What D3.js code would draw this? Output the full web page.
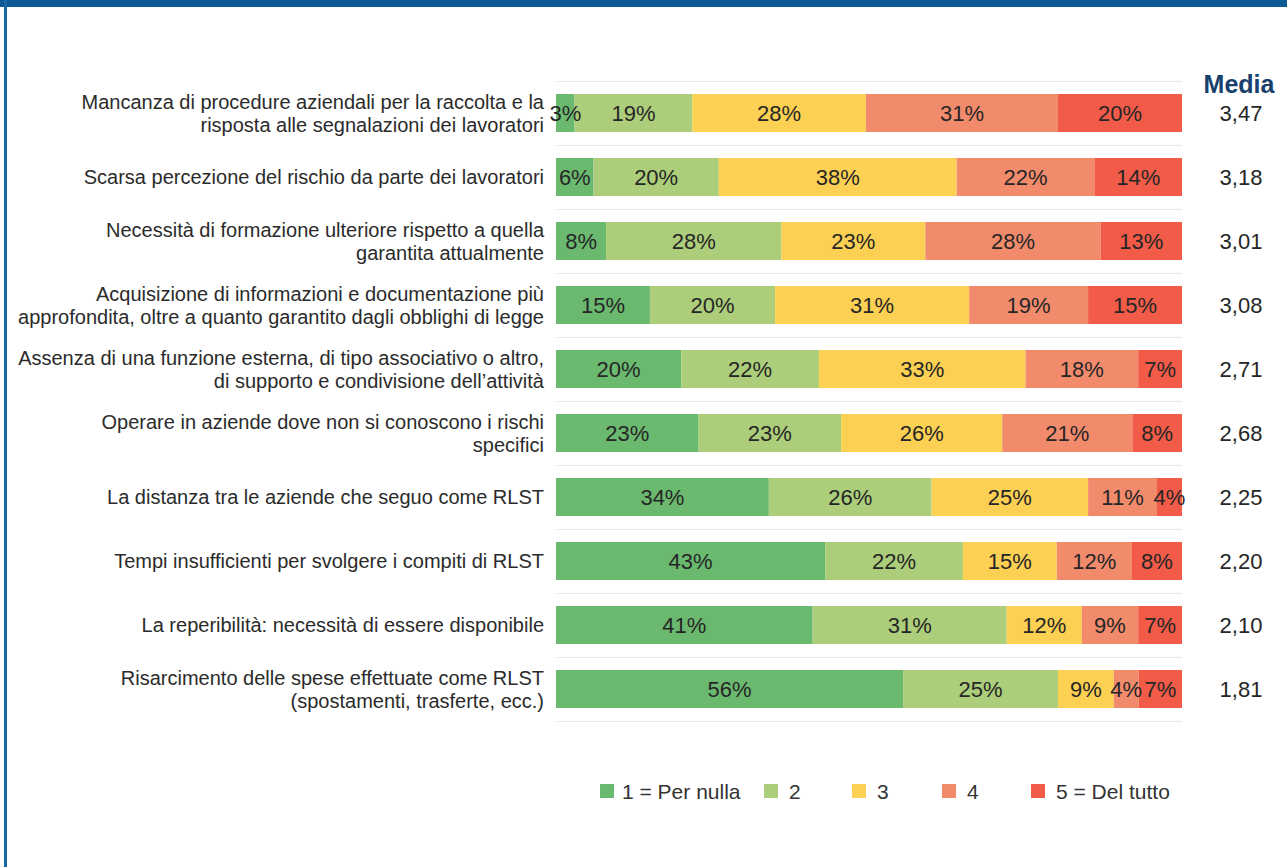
<!DOCTYPE html>
<html>
<head>
<meta charset="utf-8">
<script src="https://cdn.jsdelivr.net/npm/d3@7"></script>
<style>
  html, body { margin: 0; padding: 0; background: #fff; }
  svg { display: block; font-family: "Liberation Sans", Arial, sans-serif; }
</style>
</head>
<body>
<svg id="chart" width="1287" height="867"></svg>
<script>
// Row labels (each entry is one or two lines)
const categories = [
  ["Mancanza di procedure aziendali per la raccolta e la", "risposta alle segnalazioni dei lavoratori"],
  ["Scarsa percezione del rischio da parte dei lavoratori"],
  ["Necessità di formazione ulteriore rispetto a quella", "garantita attualmente"],
  ["Acquisizione di informazioni e documentazione più", "approfondita, oltre a quanto garantito dagli obblighi di legge"],
  ["Assenza di una funzione esterna, di tipo associativo o altro,", "di supporto e condivisione dell\u2019attività"],
  ["Operare in aziende dove non si conoscono i rischi", "specifici"],
  ["La distanza tra le aziende che seguo come RLST"],
  ["Tempi insufficienti per svolgere i compiti di RLST"],
  ["La reperibilità: necessità di essere disponibile"],
  ["Risarcimento delle spese effettuate come RLST", "(spostamenti, trasferte, ecc.)"]
];

// Percentage of answers for each score, one array per score
const score1 = [3, 6, 8, 15, 20, 23, 34, 43, 41, 56];
const score2 = [19, 20, 28, 20, 22, 23, 26, 22, 31, 25];
const score3 = [28, 38, 23, 31, 33, 26, 25, 15, 12, 9];
const score4 = [31, 22, 28, 19, 18, 21, 11, 12, 9, 4];
const score5 = [20, 14, 13, 15, 7, 8, 4, 8, 7, 7];

// Mean score per row
const media = ["3,47", "3,18", "3,01", "3,08", "2,71", "2,68", "2,25", "2,20", "2,10", "1,81"];

const seriesNames = ["1 = Per nulla", "2", "3", "4", "5 = Del tutto"];
const seriesColors = ["#6ab96f", "#accd7a", "#fcd052", "#f28b6c", "#f15b48"];

const svg = d3.select("#chart");
const W = 1287, H = 867;

// Frame
svg.append("rect").attr("x", 0).attr("y", 0).attr("width", W).attr("height", 7).attr("fill", "#0b5a95");
svg.append("rect").attr("x", 4).attr("y", 0).attr("width", 3).attr("height", H).attr("fill", "#1668a3");

const plotLeft = 556, plotRight = 1182, plotTop = 81, plotBottom = 721;

const rows = categories.map((c, i) => ({
  idx: i,
  s0: score1[i], s1: score2[i], s2: score3[i], s3: score4[i], s4: score5[i]
}));
const keys = ["s0", "s1", "s2", "s3", "s4"];

const stacked = d3.stack().keys(keys).offset(d3.stackOffsetExpand)(rows);

const x = d3.scaleLinear().domain([0, 1]).range([plotLeft, plotRight]);
const y = d3.scaleBand().domain(d3.range(categories.length)).range([plotTop, plotBottom]).paddingInner(0.406).paddingOuter(0.203);
const band = d3.scaleBand().domain(d3.range(categories.length)).range([plotTop, plotBottom]);

// Gridlines between rows
const gridYs = d3.range(categories.length + 1).map(i => plotTop + i * band.step());
svg.append("g").selectAll("line").data(gridYs).join("line")
  .attr("x1", plotLeft).attr("x2", plotRight)
  .attr("y1", d => d + 0.5).attr("y2", d => d + 0.5)
  .attr("stroke", "#e8e8e8").attr("stroke-width", 1);

// Stacked bars
const layers = svg.append("g").selectAll("g").data(stacked).join("g")
  .attr("fill", (d, i) => seriesColors[i]);

layers.selectAll("rect").data(d => d).join("rect")
  .attr("x", d => x(d[0]))
  .attr("y", d => y(d.data.idx))
  .attr("width", d => x(d[1]) - x(d[0]))
  .attr("height", y.bandwidth());

// Value labels inside the segments
const labelG = svg.append("g");
stacked.forEach((layer) => {
  labelG.append("g").selectAll("text").data(layer).join("text")
    .attr("x", d => (x(d[0]) + x(d[1])) / 2)
    .attr("y", d => y(d.data.idx) + y.bandwidth() / 2)
    .attr("dy", "0.36em")
    .attr("text-anchor", "middle")
    .attr("font-size", 22)
    .attr("fill", "#262626")
    .text(d => d.data[layer.key] + "%");
});

// Category labels
const catG = svg.append("g");
categories.forEach((lines, i) => {
  const cy = band(i) + band.step() / 2;
  const lh = 23;
  const t = catG.append("text")
    .attr("text-anchor", "end")
    .attr("font-size", 20)
    .attr("fill", "#2b2b2b");
  lines.forEach((ln, k) => {
    t.append("tspan")
      .attr("x", 544)
      .attr("y", cy + (k - (lines.length - 1) / 2) * lh)
      .attr("dy", "0.36em")
      .text(ln);
  });
});

// Mean column
svg.append("text")
  .attr("x", 1239).attr("y", 93)
  .attr("text-anchor", "middle")
  .attr("font-size", 25).attr("font-weight", "bold")
  .attr("fill", "#17406d")
  .text("Media");

svg.append("g").selectAll("text").data(media).join("text")
  .attr("x", 1241)
  .attr("y", (d, i) => band(i) + band.step() / 2)
  .attr("dy", "0.36em")
  .attr("text-anchor", "middle")
  .attr("font-size", 22)
  .attr("fill", "#262626")
  .text(d => d);

// Legend
const legendX = [600, 764, 852, 942, 1031];
const legend = svg.append("g").selectAll("g").data(seriesNames).join("g")
  .attr("transform", (d, i) => `translate(${legendX[i]},791)`);
legend.append("rect").attr("x", 0).attr("y", -7).attr("width", 14).attr("height", 14)
  .attr("fill", (d, i) => seriesColors[i]);
legend.append("text").attr("x", (d, i) => i === 0 ? 22 : 25).attr("dy", "0.36em")
  .attr("font-size", 21).attr("fill", "#333").text(d => d);
</script>
</body>
</html>
